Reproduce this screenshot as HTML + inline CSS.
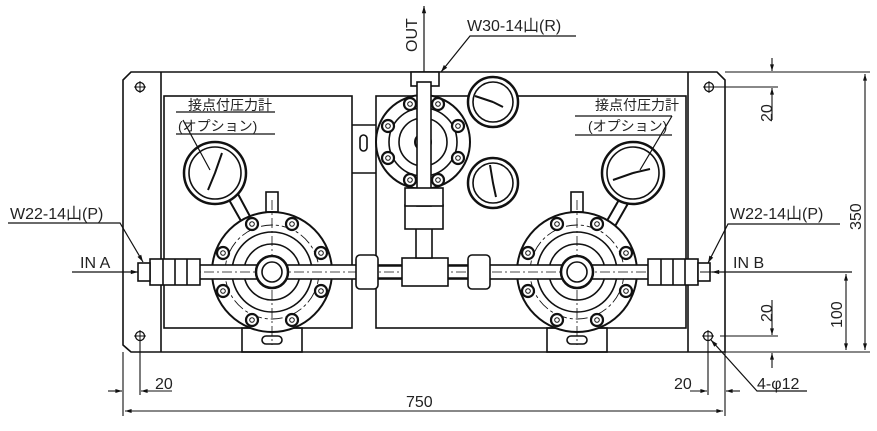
<!DOCTYPE html>
<html><head><meta charset="utf-8"><style>
html,body{margin:0;padding:0;background:#fff}
svg{display:block}
text{font-family:"Liberation Sans","Noto Sans CJK JP",sans-serif;fill:#222}
</style></head><body>
<svg width="877" height="431" viewBox="0 0 877 431" xmlns="http://www.w3.org/2000/svg">
<defs>
<marker id="ar" viewBox="0 0 10 10" refX="10" refY="5" markerWidth="8" markerHeight="6" orient="auto-start-reverse"><path d="M0,2 L10,5 L0,8z" fill="#111"/></marker>
<g id="bolt"><circle r="6" fill="#fff" stroke="#111" stroke-width="2.2"/><circle r="2.3" fill="#fff" stroke="#111" stroke-width="1"/></g>
<g id="hole"><circle r="4.5" fill="none" stroke="#111" stroke-width="1.3"/><path d="M-6,0H6M0,-6V6" stroke="#111" stroke-width="1"/></g>
</defs>
<g stroke="#111" fill="none" stroke-width="1.6">
<path d="M131,72 H717 L725,80 V352 H131 L123,345 V80 Z"/>
<path d="M161,72 V352 M688,72 V352"/>
<rect x="164" y="96" width="188" height="232"/>
<rect x="376" y="96" width="310" height="232"/>
<path d="M352,125 H376 M352,173 H376"/>
<use href="#hole" x="140" y="87"/><use href="#hole" x="140" y="336"/>
<use href="#hole" x="709" y="87"/><use href="#hole" x="708" y="336"/>
<rect x="242" y="328" width="60" height="24"/>
<rect x="547" y="328" width="60" height="24"/>
<rect x="262" y="336" width="20" height="8" rx="4"/>
<rect x="567" y="336" width="20" height="8" rx="4"/>
<rect x="360" y="135" width="7" height="16" rx="3.5"/>
<path d="M228,198 L245,228 M238,194 L253,222" stroke-width="2"/>
<circle cx="215" cy="173" r="31" fill="#fff" stroke-width="2.5"/><circle cx="215" cy="173" r="26"/>
<path d="M215,173 L222,153 M215,173 L208,190" stroke-width="2"/>
<path d="M620,198 L604,226 M630,200 L614,228" stroke-width="2"/>
<circle cx="633" cy="173" r="31" fill="#fff" stroke-width="2.5"/><circle cx="633" cy="173" r="26"/>
<path d="M633,173 L650,169 M633,173 L613,180" stroke-width="2"/>
<g id="reg">
<rect x="266" y="192" width="12" height="20"/>
<circle cx="272" cy="272" r="60" fill="#fff" stroke-width="2"/>
<circle cx="272" cy="272" r="47" stroke-dasharray="12,3,3,3" stroke-width="0.9"/>
<circle cx="272" cy="272" r="40"/>
<circle cx="272" cy="272" r="28"/>
<use href="#bolt" x="252" y="224"/><use href="#bolt" x="292" y="224"/>
<use href="#bolt" x="223" y="253"/><use href="#bolt" x="321" y="253"/>
<use href="#bolt" x="223" y="291"/><use href="#bolt" x="321" y="291"/>
<use href="#bolt" x="252" y="320"/><use href="#bolt" x="292" y="320"/>
<path d="M272,200V345" stroke-dasharray="10,3,2,3" stroke-width="0.8"/>
</g>
<use href="#reg" x="305" y="0"/>
<rect x="140" y="265" width="565" height="14" fill="#fff"/>
<path d="M150,272 H700" stroke-dasharray="10,3,2,3" stroke-width="0.8"/>
<circle cx="272" cy="272" r="16" fill="#fff" stroke-width="2.5"/><circle cx="272" cy="272" r="10"/>
<circle cx="577" cy="272" r="16" fill="#fff" stroke-width="2.5"/><circle cx="577" cy="272" r="10"/>
<rect x="150" y="259" width="50" height="26" fill="#fff"/>
<path d="M163,259V285M175,259V285M187,259V285"/>
<rect x="138" y="263" width="12" height="18" fill="#fff"/>
<rect x="648" y="259" width="50" height="26" fill="#fff"/>
<path d="M661,259V285M673,259V285M685,259V285"/>
<rect x="698" y="263" width="12" height="18" fill="#fff"/>
<rect x="356" y="255" width="22" height="34" rx="4" fill="#fff"/>
<rect x="468" y="255" width="22" height="34" rx="4" fill="#fff"/>
<rect x="402" y="258" width="46" height="28" fill="#fff"/>
<path d="M378,266 H402 M378,278 H402 M448,266 H468 M448,278 H468"/>
<rect x="416" y="226" width="16" height="32" fill="#fff"/>
<rect x="405" y="205" width="38" height="24" fill="#fff"/>
<rect x="411" y="72" width="28" height="14" fill="#fff"/>
<circle cx="493" cy="102" r="25" fill="#fff" stroke-width="2.5"/><circle cx="493" cy="102" r="20"/>
<path d="M493,102 L475,96 M493,102 L503,107" stroke-width="2"/>
<circle cx="493" cy="183" r="25" fill="#fff" stroke-width="2.5"/><circle cx="493" cy="183" r="20"/>
<path d="M493,183 L490,165 M493,183 L496,197" stroke-width="2"/>
<circle cx="423" cy="142" r="47" fill="#fff" stroke-width="2"/>
<circle cx="423" cy="142" r="34"/><circle cx="423" cy="142" r="24"/>
<circle cx="423" cy="142" r="8" stroke-width="2"/>
<use href="#bolt" x="410" y="104"/><use href="#bolt" x="438" y="104"/>
<use href="#bolt" x="388" y="126"/><use href="#bolt" x="458" y="126"/>
<use href="#bolt" x="388" y="158"/><use href="#bolt" x="458" y="158"/>
<use href="#bolt" x="410" y="180"/><use href="#bolt" x="438" y="180"/>
<rect x="417" y="82" width="14" height="124" fill="#fff"/>
<rect x="405" y="188" width="38" height="18" fill="#fff"/>
<path d="M424,72 V6" marker-end="url(#ar)" stroke-width="1.2"/>
<path d="M8,223 H120 L143,262" stroke-width="1.2" marker-end="url(#ar)"/>
<path d="M72,272 H138" stroke-width="1.2" marker-end="url(#ar)"/>
<path d="M840,224 H728 L708,263" stroke-width="1.2" marker-end="url(#ar)"/>
<path d="M852,272 H712" stroke-width="1.2" marker-end="url(#ar)"/>
<path d="M576,36 H470 L441,72" stroke-width="1.2" marker-end="url(#ar)"/>
<path d="M807,391 H757 L711,340" stroke-width="1.2" marker-end="url(#ar)"/>
<path d="M176,112 H275 M176,134 H275 M183,120 L210,170" stroke-width="1.2"/>
<path d="M575,116 H672 M575,135 H672 M672,116 L640,170" stroke-width="1.2"/>
<g stroke-width="1.1">
<path d="M123,352 V416 M725,352 V416 M140,340 V395 M708,340 V395"/>
<path d="M125,411 H723" marker-start="url(#ar)" marker-end="url(#ar)"/>
<path d="M108,391 H122" marker-end="url(#ar)"/><path d="M172,391 H141" marker-end="url(#ar)"/>
<path d="M690,391 H707" marker-end="url(#ar)"/><path d="M740,391 H726" marker-end="url(#ar)"/>
<path d="M725,72 H870 M715,87 H778 M720,336 H778 M725,352 H870 M700,272 H850"/>
<path d="M772,58 V71" marker-end="url(#ar)"/><path d="M772,120 V88" marker-end="url(#ar)"/>
<path d="M772,300 V335" marker-end="url(#ar)"/><path d="M772,368 V353" marker-end="url(#ar)"/>
<path d="M865,74 V350" marker-start="url(#ar)" marker-end="url(#ar)"/>
<path d="M846,274 V350" marker-start="url(#ar)" marker-end="url(#ar)"/>
</g>
</g>
<g font-size="16">
<text x="10" y="219">W22-14山(P)</text>
<text x="80" y="268">IN A</text>
<text x="730" y="219">W22-14山(P)</text>
<text x="733" y="268">IN B</text>
<text x="467" y="31">W30-14山(R)</text>
<text x="757" y="389">4-φ12</text>
<text x="406" y="407">750</text>
<text x="155" y="389">20</text>
<text x="674" y="389">20</text>
<text transform="translate(417,52) rotate(-90)">OUT</text>
<text transform="translate(772,122) rotate(-90)">20</text>
<text transform="translate(772,322) rotate(-90)">20</text>
<text transform="translate(861,230) rotate(-90)">350</text>
<text transform="translate(842,328) rotate(-90)">100</text>
<text x="188" y="110" font-size="14">接点付圧力計</text>
<text x="178" y="131" font-size="14">(オプション)</text>
<text x="595" y="110" font-size="14">接点付圧力計</text>
<text x="588" y="131" font-size="14">(オプション)</text>
</g>
</svg>
</body></html>
